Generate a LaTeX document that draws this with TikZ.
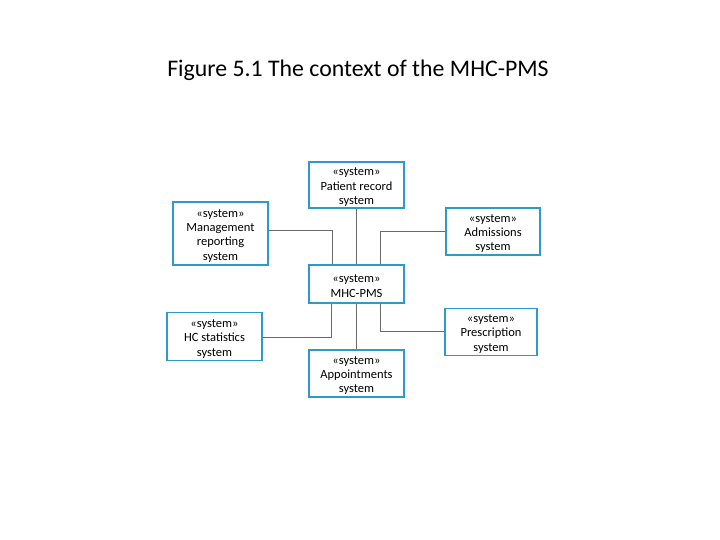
\documentclass[tikz,border=0pt]{standalone}
\usepackage{fontspec}
\setmainfont{Carlito}
\newfontfamily\boxfont{Carlito}
\definecolor{boxblue}{HTML}{2E9AC8}
\definecolor{linegrey}{HTML}{6A6A6A}
\begin{document}
\begin{tikzpicture}[x=1pt,y=-1pt,
  sysbox/.style={draw=boxblue, line width=1.4pt, fill=white, inner sep=0pt},
  boxtext/.style={align=center, inner sep=0pt, yshift=-2.2pt,
    font=\boxfont\fontsize{12.5}{14.3}\selectfont},
  conn/.style={draw=linegrey, line width=0.9pt}]
\useasboundingbox (0,0) rectangle (720,540);
\node[anchor=base, font=\fontsize{23.8}{28}\selectfont] (title) at (358,77) {Figure 5.1 The context of the MHC-PMS};

\node[sysbox, minimum width=95pt, minimum height=46pt,
  label={[boxtext]center:{«system»\\Patient record\\system}}] (pat) at (356.5,185) {};
\node[sysbox, minimum width=95pt, minimum height=63pt,
  label={[boxtext]center:{«system»\\Management\\reporting\\system}}] (mgmt) at (220.5,233.5) {};
\node[sysbox, minimum width=94pt, minimum height=47pt,
  label={[boxtext]center:{«system»\\Admissions\\system}}] (adm) at (493,231.5) {};
\node[sysbox, minimum width=95pt, minimum height=38pt,
  label={[boxtext]center:{«system»\\MHC-PMS}}] (mhc) at (356.5,284) {};
\node[sysbox, minimum width=95pt, minimum height=48pt,
  label={[boxtext]center:{«system»\\HC statistics\\system}}] (hc) at (214.5,336.7) {};
\node[sysbox, minimum width=95pt, minimum height=47pt,
  label={[boxtext]center:{«system»\\Appointments\\system}}] (app) at (356.5,373.3) {};
\node[sysbox, minimum width=92pt, minimum height=47pt,
  label={[boxtext]center:{«system»\\Prescription\\system}}] (pre) at (491,331.8) {};

\draw[conn] (pat.south) -- (mhc.north);
\draw[conn] ([yshift=2.8pt]mgmt.east) -| ([xshift=-24.5pt]mhc.north);
\draw[conn] (adm.west) -| ([xshift=24pt]mhc.north);
\draw[conn] (app.north) -- (mhc.south);
\draw[conn] ([yshift=-0.6pt]hc.east) -| ([xshift=-25.5pt]mhc.south);
\draw[conn] (pre.west) -| ([xshift=24pt]mhc.south);
\end{tikzpicture}
\end{document}
